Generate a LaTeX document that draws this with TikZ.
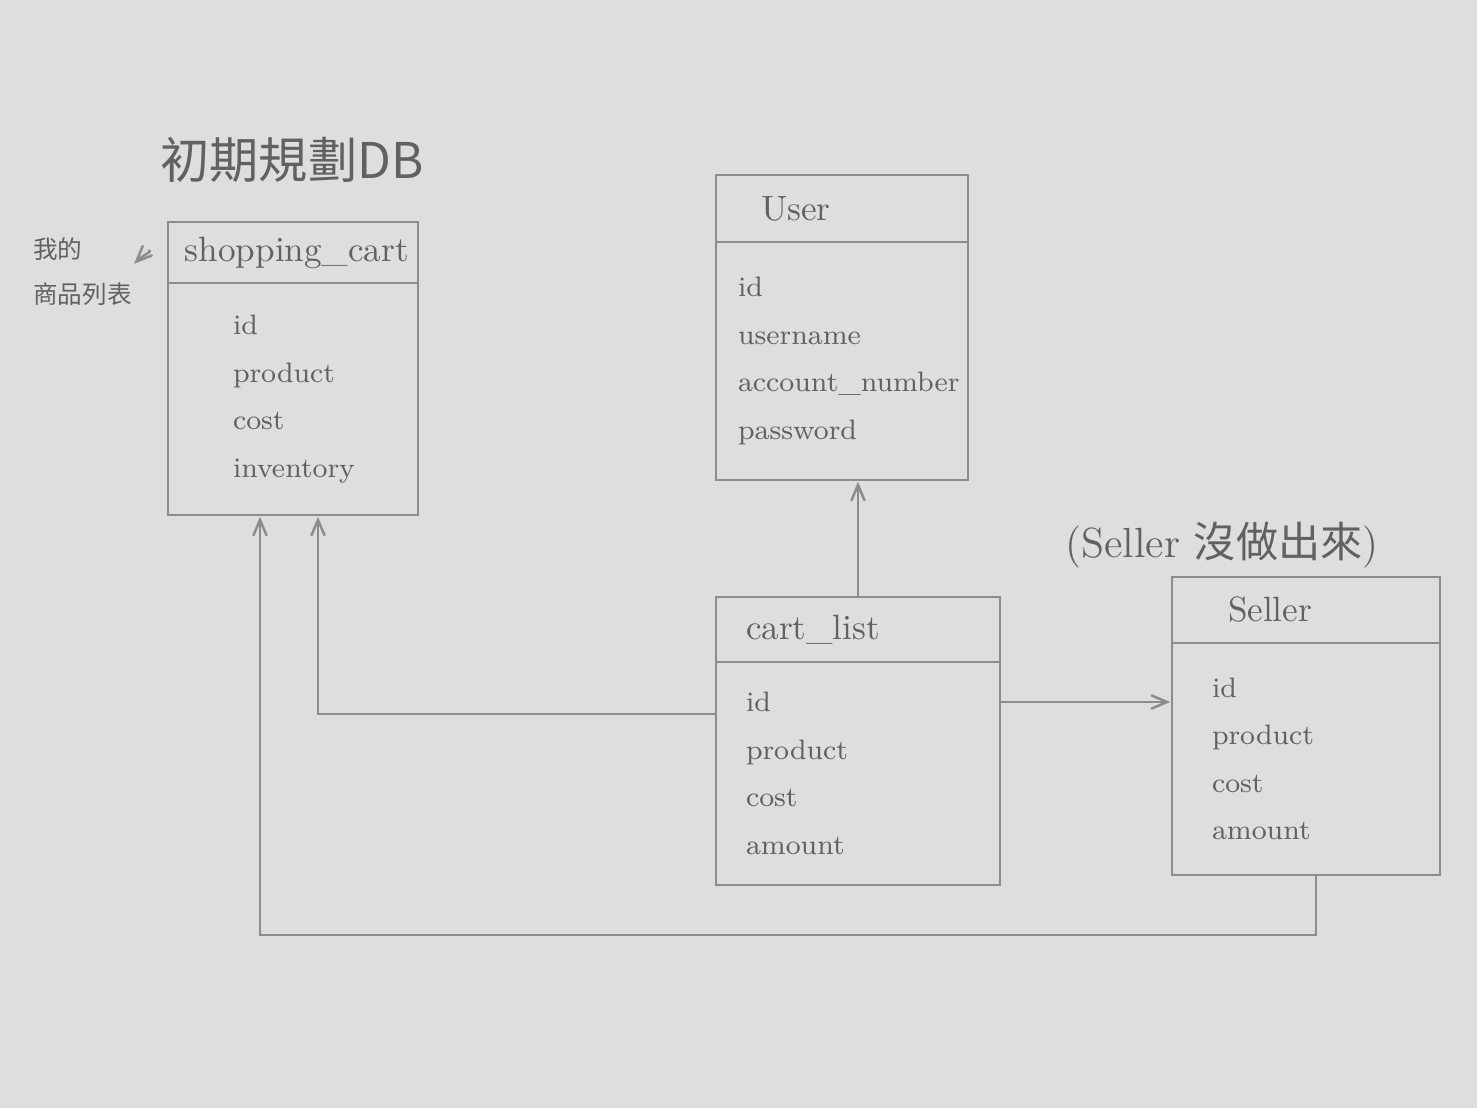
\documentclass[tikz,border=0pt]{standalone}
\usepackage{fontspec}
\newfontfamily\cjk{Noto Sans CJK TC}
\usepackage{tikz}
\usetikzlibrary{arrows,positioning}

\begin{document}
\begin{tikzpicture}[>=angle 45, line width=0.7pt,
    ink/.style={draw=black!45, text=black!62, outer sep=0pt},
    head/.style={ink, rectangle, align=left, inner ysep=0pt, font=\fontsize{10}{12}\selectfont},
    field/.style={ink, rectangle, align=left, inner ysep=0pt, font=\fontsize{8}{13.5}\selectfont, below=0pt of #1},
    link/.style={->, draw=black!45, shorten >=0.5pt}]

  \useasboundingbox (0,0) rectangle (14.77,11.08);
  \fill[black!13] (0,0) rectangle (14.77,11.08);

  % tables
  \node[head, minimum width=2.5cm, minimum height=0.61cm, text width=2.16cm, inner xsep=0.17cm] (sc) at (2.93,8.555) {shopping\_cart};
  \node[field=sc, minimum width=2.5cm, minimum height=2.32cm, text width=1.2cm, inner xsep=0.65cm] (scf) {id\\product\\cost\\inventory};

  \node[head, minimum width=2.52cm, minimum height=0.67cm, text width=1.62cm, inner xsep=0.45cm] (user) at (8.42,8.995) {User};
  \node[field=user, minimum width=2.52cm, minimum height=2.38cm, text width=2.08cm, inner xsep=0.22cm] (userf) {id\\username\\account\_number\\password};

  \node[head, minimum width=2.84cm, minimum height=0.65cm, text width=2.24cm, inner xsep=0.3cm] (cl) at (8.58,4.785) {cart\_list};
  \node[field=cl, minimum width=2.84cm, minimum height=2.23cm, text width=2.24cm, inner xsep=0.3cm] (clf) {id\\product\\cost\\amount};

  \node[head, minimum width=2.68cm, minimum height=0.66cm, text width=1.56cm, inner xsep=0.56cm] (seller) at (13.06,4.98) {Seller};
  \node[field=seller, minimum width=2.68cm, minimum height=2.32cm, text width=1.88cm, inner xsep=0.4cm] (sellerf) {id\\product\\cost\\amount};

  % texts
  \node[text=black!62, font=\cjk\fontsize{14}{16}\selectfont] (title) at (2.92,9.48) {初期規劃DB};
  \node[text=black!62, font=\cjk\fontsize{7}{12.8}\selectfont, align=left, inner sep=0pt, anchor=west] (note) at (0.32,8.36) {我的\\商品列表};
  \node[text=black!62, font=\fontsize{12}{14}\selectfont] (todo) at (12.22,5.63) {(Seller {\cjk 沒做出來})};

  % links
  \coordinate (clin) at ([yshift=-0.52cm]clf.north west);
  \coordinate (clout) at ([yshift=-0.4cm]clf.north east);
  \coordinate (scin) at ([xshift=0.25cm]scf.south);
  \coordinate (scin2) at ([xshift=-0.33cm]scf.south);
  \coordinate (sout) at ([xshift=0.1cm]sellerf.south);

  \draw[link] (cl.north) -- (cl.north |- userf.south);
  \draw[link] (clin) -| (scin);
  \draw[link] (clout) -- (clout -| sellerf.west);
  \draw[link] (sout) -- ++(0,-0.6) -| (scin2);
  \draw[link, shorten <=0.2cm] (sc.west) to[bend right=25] ([yshift=0.07cm]note.east);
\end{tikzpicture}
\end{document}
